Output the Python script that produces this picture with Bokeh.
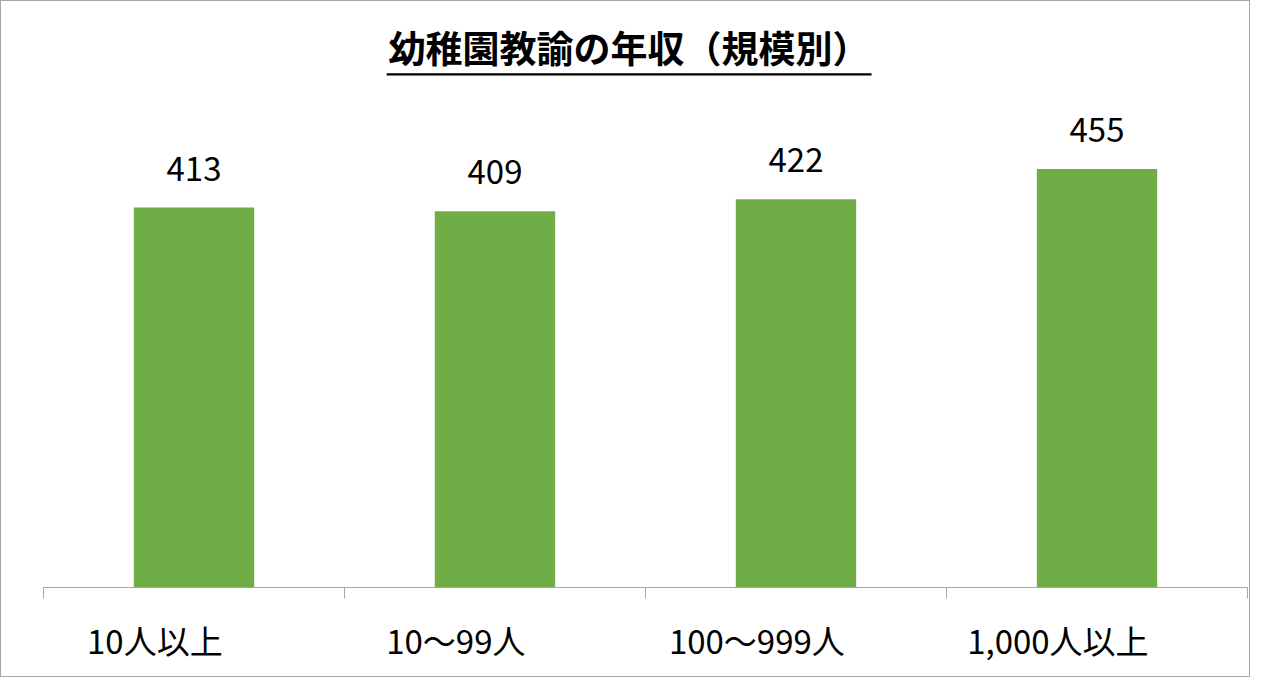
from bokeh.plotting import figure
from bokeh.models import (ColumnDataSource, LabelSet, Label, BoxAnnotation,
                          Range1d, LinearAxis, FixedTicker)
from bokeh.core.properties import value
from bokeh.embed import file_html
from bokeh.resources import INLINE

# ---- data ----
categories = ["10人以上", "10～99人", "100～999人", "1,000人以上"]
values = [413, 409, 422, 455]
value_labels = [str(v) for v in values]
title_text = "幼稚園教諭の年収（規模別）"

BAR = "#70AD47"
GRAY = "#a6a6a6"
FONT = "Noto Sans CJK JP"

n = len(categories)
centres = [i + 0.5 for i in range(n)]      # slot centres on the category scale
bounds = list(range(n + 1))                 # slot boundaries (tick marks)

src = ColumnDataSource(dict(x=centres, cat=categories, val=values, lab=value_labels))

p = figure(width=1250, height=677,
           x_range=Range1d(0, n),
           y_range=Range1d(0, 637),
           x_axis_location=None, y_axis_location=None,
           toolbar_location=None, output_backend="svg",
           min_border_left=42, min_border_right=4, min_border_top=0, min_border_bottom=91)
p.outline_line_color = None
p.grid.visible = False
p.background_fill_color = "white"
p.border_fill_color = "white"
p.styles = {"border": "1px solid #a6a6a6"}

p.vbar(x="x", top="val", width=0.4, source=src, color=BAR, line_color=None)

# tick axis (ticks on category boundaries)
tick_axis = LinearAxis(ticker=FixedTicker(ticks=bounds))
tick_axis.axis_line_color = GRAY
tick_axis.major_tick_line_color = GRAY
tick_axis.major_tick_in = 0
tick_axis.major_tick_out = 11
tick_axis.minor_tick_line_color = None
tick_axis.major_label_overrides = {b: "" for b in bounds}
tick_axis.major_label_standoff = 0
tick_axis.major_label_text_font_size = "1px"
p.add_layout(tick_axis, "below")

# category label axis (labels sit slightly left of the bar centres, as in the reference)
shift = 0.13
p.extra_x_ranges = {"lab": Range1d(shift, n + shift)}
cat_axis = LinearAxis(x_range_name="lab", ticker=FixedTicker(ticks=centres))
cat_axis.major_label_overrides = {c: name for c, name in zip(centres, categories)}
cat_axis.axis_line_color = None
cat_axis.major_tick_line_color = None
cat_axis.minor_tick_line_color = None
cat_axis.major_tick_in = 0
cat_axis.major_tick_out = 0
cat_axis.major_label_standoff = 17
cat_axis.major_label_text_font = FONT
cat_axis.major_label_text_font_size = "33px"
cat_axis.major_label_text_color = "black"
p.add_layout(cat_axis, "below")

labels = LabelSet(x="x", y="val", text="lab", source=src, y_offset=27,
                  text_align="center", text_baseline="alphabetic",
                  text_font=value(FONT), text_font_size=value("33px"), text_color="black")
p.add_layout(labels)

title = Label(x=1.945, y=587, text=title_text, text_align="center", text_baseline="middle",
              text_font=FONT, text_font_size="37px", text_font_style="bold", text_color="black")
p.add_layout(title)
underline = BoxAnnotation(left=1.140, right=2.751, bottom=556.5, top=559.0,
                          fill_color="black", fill_alpha=1, line_color=None)
p.add_layout(underline)

open("out.html", "w").write(file_html(p, INLINE))
